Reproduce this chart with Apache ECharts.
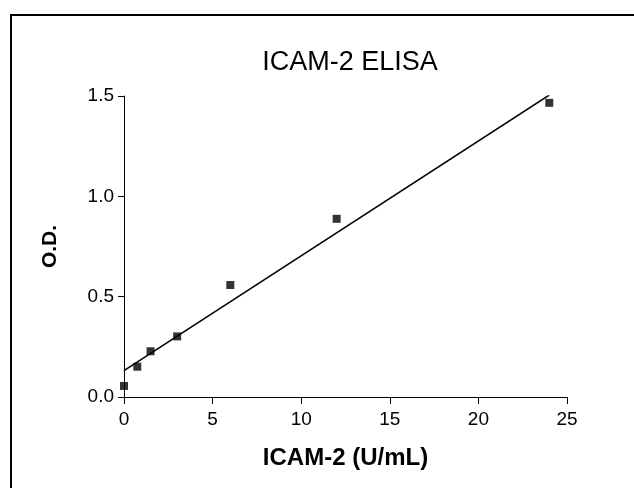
<!DOCTYPE html>
<html>
<head>
<meta charset="utf-8">
<script src="https://cdn.jsdelivr.net/npm/echarts@6/dist/echarts.min.js"></script>
<style>html,body{margin:0;padding:0;background:#fff}#c{width:634px;height:488px}</style>
</head>
<body>
<div id="c"></div>
<script>
const xValues = [0, 0.75, 1.5, 3, 6, 12, 24];
const odValues = [0.055, 0.151, 0.228, 0.302, 0.558, 0.888, 1.466];
const fitLine = [[0, 0.131], [24, 1.505]];
const xTicks = [0, 5, 10, 15, 20, 25];
const yTicks = [0.0, 0.5, 1.0, 1.5];

const chart = echarts.init(document.getElementById('c'), null, {renderer: 'canvas'});
const font = '"Liberation Sans", Arial, sans-serif';
chart.setOption({
  animation: false,
  backgroundColor: '#fff',
  title: {
    text: 'ICAM-2 ELISA', left: 345, top: 44, textAlign: 'center',
    textStyle: {fontFamily: font, fontSize: 27, fontWeight: 'normal', color: '#000'}
  },
  graphic: [{
    type: 'rect', shape: {x: 11, y: 15, width: 700, height: 600},
    style: {fill: 'none', stroke: '#000', lineWidth: 2}, silent: true
  }],
  grid: {left: 124, right: 67, top: 96, bottom: 91, containLabel: false},
  xAxis: {
    type: 'value', min: xTicks[0], max: xTicks[xTicks.length - 1], interval: 5,
    name: 'ICAM-2 (U/mL)', nameLocation: 'middle', nameGap: 49,
    nameTextStyle: {fontFamily: font, fontSize: 24, fontWeight: 'bold', color: '#000'},
    axisLine: {show: true, onZero: false, lineStyle: {color: '#000', width: 1}},
    axisTick: {show: true, inside: false, length: 7, lineStyle: {color: '#000'}},
    axisLabel: {fontFamily: font, fontSize: 19, color: '#000', margin: 13},
    splitLine: {show: false}
  },
  yAxis: {
    type: 'value', min: yTicks[0], max: yTicks[yTicks.length - 1], interval: 0.5,
    name: 'O.D.', nameLocation: 'middle', nameGap: 63, nameRotate: 90,
    nameTextStyle: {fontFamily: font, fontSize: 21, fontWeight: 'bold', color: '#000'},
    axisLine: {show: true, onZero: false, lineStyle: {color: '#000', width: 1}},
    axisTick: {show: true, inside: false, length: 6, lineStyle: {color: '#000'}},
    axisLabel: {fontFamily: font, fontSize: 19, color: '#000', margin: 10,
      formatter: v => v.toFixed(1)},
    splitLine: {show: false}
  },
  series: [
    {
      type: 'line', data: fitLine, symbol: 'none',
      lineStyle: {color: '#000', width: 1.5}, z: 2
    },
    {
      type: 'scatter', data: xValues.map((x, i) => [x, odValues[i]]),
      symbol: 'rect', symbolSize: 8, itemStyle: {color: '#000'}, z: 3
    }
  ]
});
</script>
</body>
</html>
